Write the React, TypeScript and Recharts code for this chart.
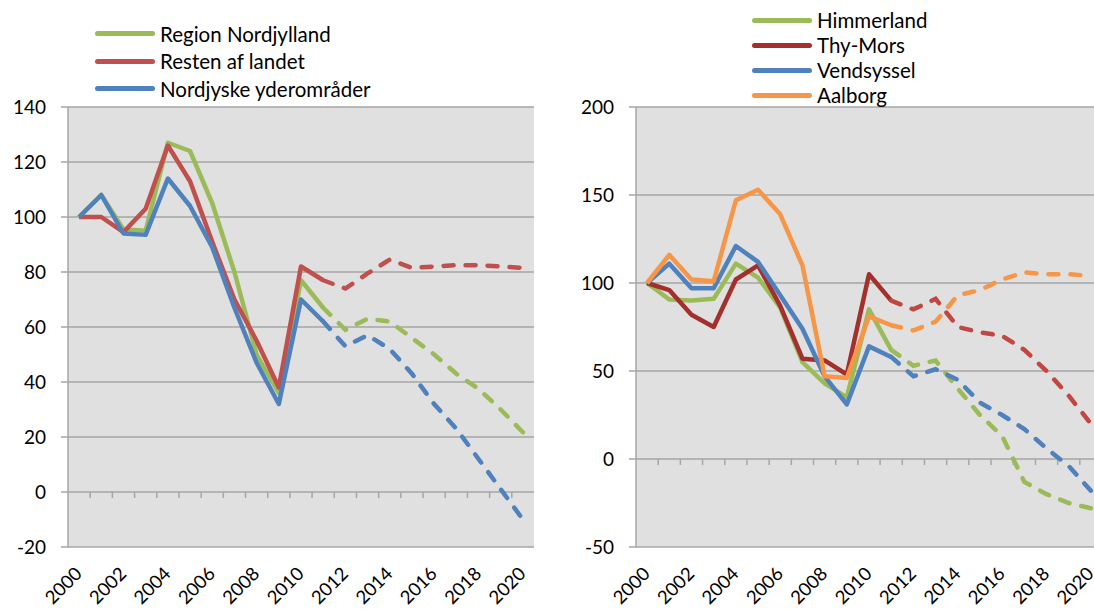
import React from 'react';
import {
  LineChart,
  Line,
  XAxis,
  YAxis,
  CartesianGrid,
  ReferenceLine,
} from 'recharts';

const years = [
  2000, 2001, 2002, 2003, 2004, 2005, 2006, 2007, 2008, 2009, 2010,
  2011, 2012, 2013, 2014, 2015, 2016, 2017, 2018, 2019, 2020,
];
const yearLabels = [2000, 2002, 2004, 2006, 2008, 2010, 2012, 2014, 2016, 2018, 2020];
const lastActual = 2011;

// venstre graf
const regionNordjylland = [100, 108, 95.5, 95, 127, 124, 105, 80, 50, 36, 77, 67, 59, 63, 62, 56, 50, 43, 37.5, 30, 21.7];
const restenAfLandet = [100, 100, 94.5, 103, 126, 113, 91, 70, 55, 38, 82, 77, 74, 79.5, 84.5, 81.5, 82, 82.5, 82.5, 82, 81.5];
const nordjyskeYderomraader = [100, 108, 94, 93.5, 114, 104, 89, 67, 47, 32, 70, 62, 53, 57, 52, 43, 32, 23, 12, 1, -10];
const leftTicks = [-20, 0, 20, 40, 60, 80, 100, 120, 140];

// højre graf
const himmerland = [100, 90.6, 90, 91, 111, 103, 86, 55, 43, 35, 85, 62, 53, 56, 40, 25, 13, -13, -20, -25, -28];
const thyMors = [100, 96, 82, 75, 102, 110, 87, 57, 56, 48, 105, 90, 85, 91, 75, 72, 70, 62, 50, 36, 20];
const vendsyssel = [100, 111, 97, 97, 121, 112, 93, 74, 47, 31, 64, 58, 47, 51, 45, 32, 25, 17, 6, -4, -18];
const aalborg = [100, 116, 102, 101, 147, 153, 139, 110, 47, 46, 81, 76, 73, 78, 93, 96, 102, 106, 105, 105, 104];
const rightTicks = [-50, 0, 50, 100, 150, 200];

const FONT = 'Lato, "Open Sans", sans-serif';
const GRID = '#A6A6A6';
const DASH = '10 12';

type SeriesDef = { key: string; name: string; values: number[]; color: string; dashColor: string };

const leftSeries: SeriesDef[] = [
  { key: 'rn', name: 'Region Nordjylland', values: regionNordjylland, color: '#9BBB59', dashColor: '#9BBB59' },
  { key: 'ra', name: 'Resten af landet', values: restenAfLandet, color: '#C0504D', dashColor: '#C0504D' },
  { key: 'ny', name: 'Nordjyske yderområder', values: nordjyskeYderomraader, color: '#4F81BD', dashColor: '#4F81BD' },
];

const rightSeries: SeriesDef[] = [
  { key: 'hi', name: 'Himmerland', values: himmerland, color: '#9BBB59', dashColor: '#9BBB59' },
  { key: 'tm', name: 'Thy-Mors', values: thyMors, color: '#A3302C', dashColor: '#C24642' },
  { key: 've', name: 'Vendsyssel', values: vendsyssel, color: '#4F81BD', dashColor: '#4F81BD' },
  { key: 'aa', name: 'Aalborg', values: aalborg, color: '#F79646', dashColor: '#F79646' },
];

function buildRows(series: SeriesDef[]) {
  return years.map((year, i) => {
    const row: Record<string, number | null> = { year };
    series.forEach((s) => {
      row[s.key + 'Solid'] = year <= lastActual ? s.values[i] : null;
      row[s.key + 'Dash'] = year >= lastActual ? s.values[i] : null;
    });
    return row;
  });
}

const YearTick = (props: any) => {
  const { x, y, payload } = props;
  return (
    <text
      x={x + 4}
      y={y + 20}
      transform={`rotate(-45 ${x + 4} ${y + 20})`}
      textAnchor="end"
      fontSize={18.5}
      fontFamily={FONT}
      fill="#000"
    >
      {payload.value}
    </text>
  );
};

function SeriesLegend({ series, left, top, rowGap }: { series: SeriesDef[]; left: number; top: number; rowGap: number }) {
  return (
    <div style={{ position: 'absolute', left, top, fontFamily: FONT, fontSize: 20.5, color: '#000' }}>
      {series.map((s) => (
        <div key={s.key} style={{ display: 'flex', alignItems: 'center', height: rowGap, whiteSpace: 'nowrap' }}>
          <div style={{ width: 60, height: 5, borderRadius: 3, background: s.color, marginRight: 5 }} />
          <span style={{ lineHeight: 1 }}>{s.name}</span>
        </div>
      ))}
    </div>
  );
}

function Panel({ series, ticks, domain }: { series: SeriesDef[]; ticks: number[]; domain: [number, number] }) {
  const rows = buildRows(series);
  const tickLen = ((domain[1] - domain[0]) * 6) / 440;
  return (
    <LineChart
      width={560}
      height={610}
      data={rows}
      margin={{ top: 107, right: 26, bottom: 0, left: 8 }}
    >
      <CartesianGrid vertical={false} stroke={GRID} strokeWidth={1.5} fill="#E0E0E0" />
      <XAxis
        dataKey="year"
        type="number"
        domain={[1999.5, 2020.5]}
        ticks={yearLabels}
        tick={<YearTick />}
        tickLine={false}
        axisLine={false}
        height={63}
        interval={0}
        allowDataOverflow
      />
      <YAxis
        domain={domain}
        ticks={ticks}
        width={60}
        tickSize={7}
        tickMargin={15}
        stroke={GRID}
        strokeWidth={1.5}
        tick={{ fill: '#000', fontSize: 19, fontFamily: FONT }}
        allowDataOverflow
      />
      {years.slice(0, -1).map((yr) => (
        <ReferenceLine
          key={yr}
          segment={[
            { x: yr + 0.5, y: 0 },
            { x: yr + 0.5, y: -tickLen },
          ]}
          stroke={GRID}
          strokeWidth={1.5}
          ifOverflow="visible"
        />
      ))}
      {series.map((s) => (
        <Line
          key={s.key + 'Solid'}
          dataKey={s.key + 'Solid'}
          stroke={s.color}
          strokeWidth={4.5}
          dot={false}
          activeDot={false}
          isAnimationActive={false}
          strokeLinejoin="round"
        />
      ))}
      {series.map((s) => (
        <Line
          key={s.key + 'Dash'}
          dataKey={s.key + 'Dash'}
          stroke={s.dashColor}
          strokeWidth={4.5}
          strokeDasharray={DASH}
          strokeLinecap="round"
          dot={false}
          activeDot={false}
          isAnimationActive={false}
        />
      ))}
    </LineChart>
  );
}

export default function App() {
  return (
    <div style={{ position: 'absolute', left: 0, top: 0, width: 1094, height: 610, overflow: 'hidden', background: '#fff' }}>
      <style>{'body{margin:0;overflow:hidden}'}</style>
      <div style={{ position: 'absolute', left: 0, top: 0 }}>
        <Panel series={leftSeries} ticks={leftTicks} domain={[-20, 140]} />
      </div>
      <div style={{ position: 'absolute', left: 568, top: 0 }}>
        <Panel series={rightSeries} ticks={rightTicks} domain={[-50, 200]} />
      </div>
      <SeriesLegend series={leftSeries} left={95} top={20} rowGap={27.5} />
      <SeriesLegend series={rightSeries} left={752} top={8} rowGap={25} />
    </div>
  );
}
